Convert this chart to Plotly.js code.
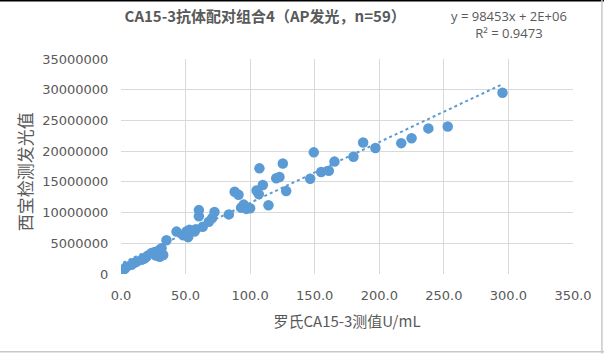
<!DOCTYPE html>
<html>
<head>
<meta charset="utf-8">
<script src="https://cdn.plot.ly/plotly-3.0.1.min.js"></script>
<style>html,body{margin:0;padding:0;background:#fff;}#chart{width:604px;height:355px;}</style>
</head>
<body>
<div id="chart"></div>
<script>
// Roche CA15-3 measured value (U/mL)
const rocheValues = [1.7, 3.0, 4.3, 8.1, 10.0, 12.0, 15.9, 18.0, 19.7, 23.6, 26.2, 27.0, 28.8, 30.0, 31.4, 32.7,
  35.2, 43.0, 48.2, 50.5, 52.0, 53.0, 56.9, 58.0, 60.3, 60.3, 63.3, 68.0, 70.6, 72.4, 83.5, 88.0, 91.0, 93.0, 95.0, 97.0,
  100.0, 105.0, 106.7, 107.2, 109.8, 114.2, 120.2, 122.7, 125.3, 127.9, 146.5, 149.3, 155.0, 160.9, 165.3, 180.0, 187.5, 197.0, 217.0,
  225.0, 238.0, 253.0, 295.4];
// Xibao luminescence value
const xibaoValues = [650000, 900000, 1200000, 1500000, 1800000, 2000000, 2300000, 2500000, 2800000, 3400000, 3600000, 3000000, 3400000, 2800000, 4200000, 3100000,
  5500000, 6900000, 6300000, 6900000, 6000000, 7200000, 6900000, 7300000, 10400000, 9400000, 7700000, 8500000, 9100000, 10100000, 9700000, 13400000, 12900000, 10800000, 11300000, 10600000,
  10700000, 13600000, 13000000, 17200000, 14500000, 11200000, 15600000, 15800000, 18000000, 13500000, 15500000, 19800000, 16600000, 16800000, 18300000, 19100000, 21400000, 20500000, 21300000,
  22100000, 23700000, 24000000, 29500000];
const xTickVals = [0, 50, 100, 150, 200, 250, 300, 350];
const yTickVals = [0, 5000000, 10000000, 15000000, 20000000, 25000000, 30000000, 35000000];
const chartTitle = 'CA15-3抗体配对组合4（AP发光，n=59）';
const xTitle = '罗氏CA15-3测值U/mL';
const yTitle = '西宝检测发光值';
const equationText = 'y = 98453x + 2E+06<br>R² = 0.9473';

// least-squares trendline from the data
const n = rocheValues.length;
let sx = 0, sy = 0, sxx = 0, sxy = 0;
for (let i = 0; i < n; i++) { sx += rocheValues[i]; sy += xibaoValues[i]; sxx += rocheValues[i] ** 2; sxy += rocheValues[i] * xibaoValues[i]; }
const slope = (n * sxy - sx * sy) / (n * sxx - sx * sx);
const intercept = (sy - slope * sx) / n;
const xmin = Math.min(...rocheValues), xmax = Math.max(...rocheValues);
const trendX = [xmin, xmax];
const trendY = trendX.map(v => slope * v + intercept);

const blue = '#5B9BD5';
const txt = '#595959';
const grid = '#d9d9d9';

const data = [
  { x: trendX, y: trendY, mode: 'lines', type: 'scatter', line: { color: blue, width: 2, dash: 'dot' }, hoverinfo: 'skip' },
  { x: rocheValues, y: xibaoValues, mode: 'markers', type: 'scatter', marker: { color: blue, size: 10.5 } }
];

const layout = {
  width: 604, height: 355,
  margin: { l: 121, r: 31, t: 59, b: 81 },
  paper_bgcolor: '#fff', plot_bgcolor: '#fff',
  showlegend: false,
  font: { family: '"DejaVu Sans", "Noto Sans CJK SC", sans-serif', color: txt },
  title: { text: chartTitle, font: { family: '"Noto Sans CJK SC", sans-serif', size: 15, color: txt, weight: 'bold' },
           xref: 'container', yref: 'container', x: 0.439, xanchor: 'center', y: 0.952, yanchor: 'middle' },
  xaxis: {
    range: [0, 350], tickvals: xTickVals, tickformat: '.1f',
    showgrid: true, gridcolor: grid, zeroline: false, showline: false,
    ticks: 'outside', ticklen: 9, tickcolor: 'rgba(0,0,0,0)',
    tickfont: { family: '"DejaVu Sans", sans-serif', size: 13, color: txt },
    title: { text: xTitle, font: { family: '"Noto Sans CJK SC", sans-serif', size: 15, color: txt }, standoff: 14 }
  },
  yaxis: {
    range: [0, 35000000], tickvals: yTickVals, tickformat: 'd',
    showgrid: true, gridcolor: grid, zeroline: false, showline: false,
    ticks: 'outside', ticklen: 9, tickcolor: 'rgba(0,0,0,0)',
    tickfont: { family: '"DejaVu Sans", sans-serif', size: 13, color: txt }
  },
  annotations: [
    { text: equationText, xref: 'paper', yref: 'paper', x: 0.858, y: 1.16, xanchor: 'center', yanchor: 'middle',
      showarrow: false, align: 'center', font: { family: '"Open Sans", sans-serif', size: 13, color: txt } },
    { text: yTitle, xref: 'paper', yref: 'paper', x: -0.214, y: 0.474, xanchor: 'center', yanchor: 'middle',
      textangle: -90, showarrow: false, font: { family: '"Noto Sans CJK SC", sans-serif', size: 17, color: txt } }
  ],
  shapes: [
    { type: 'line', xref: 'paper', yref: 'paper', x0: -0.27, x1: 1.07, y0: 1.272, y1: 1.272, line: { color: '#000', width: 2 } },
    { type: 'line', xref: 'paper', yref: 'paper', x0: 1.064, x1: 1.064, y0: 1.274, y1: -0.37, line: { color: '#c8c8c8', width: 1.5 } },
    { type: 'line', xref: 'paper', yref: 'paper', x0: -0.27, x1: 1.07, y0: -0.362, y1: -0.362, line: { color: '#c8c8c8', width: 1.5 } }
  ]
};

Plotly.newPlot('chart', data, layout, { displayModeBar: false, staticPlot: true });
</script>
</body>
</html>
